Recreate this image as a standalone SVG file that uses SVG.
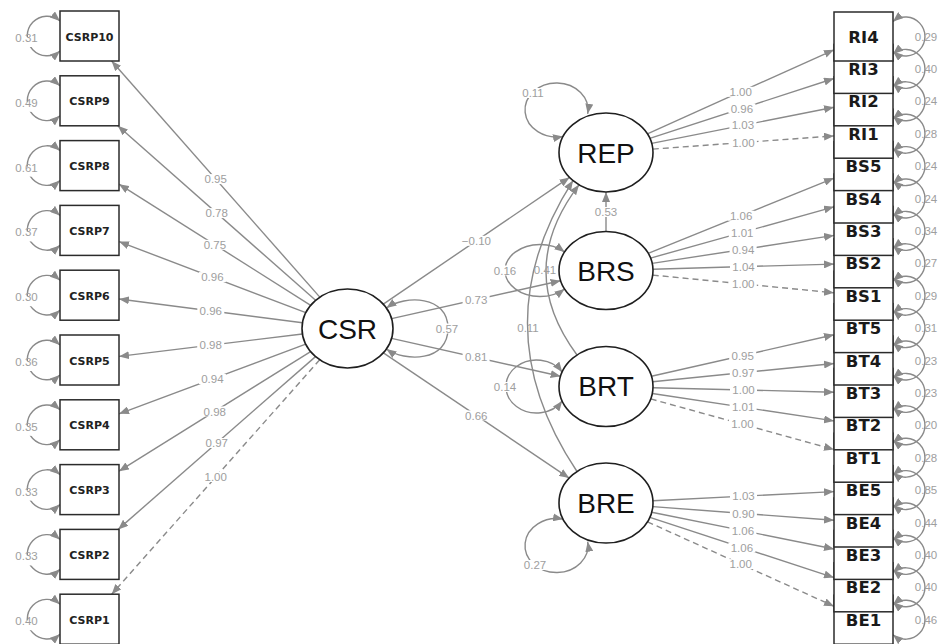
<svg xmlns="http://www.w3.org/2000/svg" width="940" height="644" viewBox="0 0 940 644">
  <style>
    .e { fill: none; stroke: #8a8a8a; stroke-width: 1.4; }
    .d { stroke-dasharray: 6 4; }
    .lb { fill: #ffffff; }
    .lt { font-family: "Liberation Sans", Arial, sans-serif; font-size: 11.5px; fill: #9e9e9e; text-anchor: middle; }
    .box { fill: #ffffff; stroke: #2b2b2b; stroke-width: 1.5; }
    .lat { fill: #ffffff; stroke: #1f1f1f; stroke-width: 1.6; }
    .tl { font-family: "DejaVu Sans", sans-serif; font-weight: bold; font-size: 11px; fill: #222222; text-anchor: middle; }
    .tr { font-family: "DejaVu Sans", sans-serif; font-weight: bold; font-size: 16.5px; fill: #1a1a1a; text-anchor: middle; }
    .tv { font-family: "Liberation Sans", Arial, sans-serif; font-size: 28px; fill: #111111; text-anchor: middle; }
  </style>
  <defs>
    <marker id="ah" viewBox="0 0 10 8" refX="10" refY="4" markerWidth="10" markerHeight="8" markerUnits="userSpaceOnUse" orient="auto">
      <path d="M0,0 L10,4 L0,8 z" fill="#8a8a8a"/>
    </marker>
    <marker id="as" viewBox="0 0 10 8" refX="10" refY="4" markerWidth="10" markerHeight="8" markerUnits="userSpaceOnUse" orient="auto-start-reverse">
      <path d="M0,0 L10,4 L0,8 z" fill="#8a8a8a"/>
    </marker>
  </defs>
  <rect width="940" height="644" fill="#ffffff"/>

  <g id="connectors">
    <!-- CSR loadings -->
    <g marker-end="url(#ah)">
      <path class="e" d="M319.8,297.1 L111.6,61.0"/>
      <path class="e" d="M315.6,300.3 L117.8,125.8"/>
      <path class="e" d="M310.7,305.3 L119.0,184.2"/>
      <path class="e" d="M305.8,312.7 L119.0,241.6"/>
      <path class="e" d="M302.5,322.7 L119.0,299.0"/>
      <path class="e" d="M302.4,334.0 L119.0,356.4"/>
      <path class="e" d="M305.7,344.1 L119.0,413.8"/>
      <path class="e" d="M310.6,351.6 L119.0,471.2"/>
      <path class="e" d="M315.5,356.6 L118.1,529.4"/>
      <path class="e d" d="M319.7,359.8 L111.7,594.2"/>
      <!-- REP loadings -->
      <path class="e" d="M647.4,133.8 L834,49.8"/>
      <path class="e" d="M649.8,138.3 L834,78.5"/>
      <path class="e" d="M651.7,143.4 L834,107.2"/>
      <path class="e d" d="M652.8,149.1 L834,135.9"/>
      <!-- BRS loadings -->
      <path class="e" d="M648.2,253.4 L834,178.1"/>
      <path class="e" d="M650.5,258.1 L834,206.8"/>
      <path class="e" d="M652.2,263.4 L834,235.4"/>
      <path class="e" d="M653.0,269.2 L834,264.1"/>
      <path class="e d" d="M652.7,275.1 L834,292.8"/>
      <!-- BRT loadings -->
      <path class="e" d="M651.4,376.2 L834,334.8"/>
      <path class="e" d="M652.7,381.8 L834,363.5"/>
      <path class="e" d="M653.0,387.7 L834,392.2"/>
      <path class="e" d="M652.3,393.5 L834,420.9"/>
      <path class="e d" d="M650.7,398.9 L834,449.5"/>
      <!-- BRE loadings -->
      <path class="e" d="M652.9,500.7 L834,491.6"/>
      <path class="e" d="M652.9,506.6 L834,520.3"/>
      <path class="e" d="M651.7,512.2 L834,549.0"/>
      <path class="e" d="M649.9,517.4 L834,577.6"/>
      <path class="e d" d="M647.5,521.8 L834,606.3"/>
      <!-- structural paths -->
      <path class="e" d="M383.3,304.1 L569.5,177.4"/>
      <path class="e" d="M391.6,318.6 L560.6,280.7"/>
      <path class="e" d="M391.6,338.4 L560.6,376.3"/>
      <path class="e" d="M383.4,352.8 L569.2,478.1"/>
      <path class="e" d="M606,231.5 L606,192"/>
      <path class="e" d="M577,355 Q514,270.1 579,184.8"/>
      <path class="e" d="M577,471.5 Q480,326 573,180.6"/>
    </g>

    <!-- variances (self loops) -->
    <g marker-start="url(#as)" marker-end="url(#ah)">
      <path class="e" d="M386.4,308 C405,295 448,295 448,328.5 C448,362 405,362 386.4,349"/>
      <path class="e" d="M587.7,113.8 A31.5,27 0 1 0 563,136.4"/>
      <path class="e" d="M564.6,252 A35,26 0 1 0 564.6,289"/>
      <path class="e" d="M562.2,372 A30.6,26.5 0 1 0 562.2,401"/>
      <path class="e" d="M563,519.1 A31.5,27 0 1 0 587.7,541.7"/>
      <!-- left indicators -->
      <path class="e" d="M60,21 A19.8,19.8 0 1 0 60,51"/>
      <path class="e" d="M60,85.8 A19.8,19.8 0 1 0 60,115.8"/>
      <path class="e" d="M60,150.6 A19.8,19.8 0 1 0 60,180.6"/>
      <path class="e" d="M60,215.4 A19.8,19.8 0 1 0 60,245.4"/>
      <path class="e" d="M60,280.2 A19.8,19.8 0 1 0 60,310.2"/>
      <path class="e" d="M60,345 A19.8,19.8 0 1 0 60,375"/>
      <path class="e" d="M60,409.8 A19.8,19.8 0 1 0 60,439.8"/>
      <path class="e" d="M60,474.6 A19.8,19.8 0 1 0 60,504.6"/>
      <path class="e" d="M60,539.4 A19.8,19.8 0 1 0 60,569.4"/>
      <path class="e" d="M60,604.2 A19.8,19.8 0 1 0 60,634.2"/>
      <!-- right indicators -->
      <path class="e" d="M893,21.5 A19.5,19.5 0 1 1 893,51.5"/>
      <path class="e" d="M893,53.9 A19.5,19.5 0 1 1 893,83.9"/>
      <path class="e" d="M893,86.3 A19.5,19.5 0 1 1 893,116.3"/>
      <path class="e" d="M893,118.7 A19.5,19.5 0 1 1 893,148.7"/>
      <path class="e" d="M893,151.1 A19.5,19.5 0 1 1 893,181.1"/>
      <path class="e" d="M893,183.5 A19.5,19.5 0 1 1 893,213.5"/>
      <path class="e" d="M893,215.9 A19.5,19.5 0 1 1 893,245.9"/>
      <path class="e" d="M893,248.3 A19.5,19.5 0 1 1 893,278.3"/>
      <path class="e" d="M893,280.7 A19.5,19.5 0 1 1 893,310.7"/>
      <path class="e" d="M893,313.1 A19.5,19.5 0 1 1 893,343.1"/>
      <path class="e" d="M893,345.5 A19.5,19.5 0 1 1 893,375.5"/>
      <path class="e" d="M893,377.9 A19.5,19.5 0 1 1 893,407.9"/>
      <path class="e" d="M893,410.3 A19.5,19.5 0 1 1 893,440.3"/>
      <path class="e" d="M893,442.7 A19.5,19.5 0 1 1 893,472.7"/>
      <path class="e" d="M893,475.1 A19.5,19.5 0 1 1 893,505.1"/>
      <path class="e" d="M893,507.5 A19.5,19.5 0 1 1 893,537.5"/>
      <path class="e" d="M893,539.9 A19.5,19.5 0 1 1 893,569.9"/>
      <path class="e" d="M893,572.3 A19.5,19.5 0 1 1 893,602.3"/>
      <path class="e" d="M893,604.7 A19.5,19.5 0 1 1 893,634.7"/>
    </g>
  </g>

  <g id="edge-labels">
    <!-- backgrounds behind path labels -->
    <g class="lb">
      <rect x="202.2" y="174.1" width="27" height="10"/>
      <rect x="203.2" y="208.1" width="27" height="10"/>
      <rect x="201.4" y="239.8" width="27" height="10"/>
      <rect x="198.9" y="272.1" width="27" height="10"/>
      <rect x="197.3" y="305.9" width="27" height="10"/>
      <rect x="197.2" y="340.2" width="27" height="10"/>
      <rect x="198.9" y="374.0" width="27" height="10"/>
      <rect x="201.3" y="406.4" width="27" height="10"/>
      <rect x="203.3" y="438.0" width="27" height="10"/>
      <rect x="202.2" y="472.0" width="27" height="10"/>
      <rect x="727.2" y="86.8" width="27" height="10"/>
      <rect x="728.4" y="103.4" width="27" height="10"/>
      <rect x="729.4" y="120.3" width="27" height="10"/>
      <rect x="729.9" y="137.5" width="27" height="10"/>
      <rect x="727.6" y="210.7" width="27" height="10"/>
      <rect x="728.8" y="227.4" width="27" height="10"/>
      <rect x="729.6" y="244.4" width="27" height="10"/>
      <rect x="730.0" y="261.7" width="27" height="10"/>
      <rect x="729.8" y="278.9" width="27" height="10"/>
      <rect x="729.2" y="350.5" width="27" height="10"/>
      <rect x="729.8" y="367.6" width="27" height="10"/>
      <rect x="730.0" y="384.9" width="27" height="10"/>
      <rect x="729.6" y="402.2" width="27" height="10"/>
      <rect x="728.9" y="419.2" width="27" height="10"/>
      <rect x="730.0" y="491.1" width="27" height="10"/>
      <rect x="729.9" y="508.4" width="27" height="10"/>
      <rect x="729.4" y="525.6" width="27" height="10"/>
      <rect x="728.4" y="542.5" width="27" height="10"/>
      <rect x="727.2" y="559.1" width="27" height="10"/>
      <rect x="459.4" y="235.8" width="34" height="10"/>
      <rect x="462.6" y="294.7" width="27" height="10"/>
      <rect x="462.6" y="352.3" width="27" height="10"/>
      <rect x="462.8" y="410.4" width="27" height="10"/>
      <rect x="592.5" y="207" width="27" height="10"/>
      <rect x="433.5" y="323.5" width="27" height="10"/>
      <rect x="519.5" y="88" width="27" height="10"/>
      <rect x="491.5" y="265.5" width="27" height="10"/>
      <rect x="491.5" y="382" width="27" height="10"/>
      <rect x="521.5" y="560" width="27" height="10"/>
      <rect x="13" y="37" width="27" height="10"/>
      <rect x="13" y="101.8" width="27" height="10"/>
      <rect x="13" y="166.6" width="27" height="10"/>
      <rect x="13" y="231.4" width="27" height="10"/>
      <rect x="13" y="296.2" width="27" height="10"/>
      <rect x="13" y="361" width="27" height="10"/>
      <rect x="13" y="425.8" width="27" height="10"/>
      <rect x="13" y="490.6" width="27" height="10"/>
      <rect x="13" y="555.4" width="27" height="10"/>
      <rect x="13" y="620.2" width="27" height="10"/>
    </g>
    <g class="lt">
      <text x="215.7" y="183.2">0.95</text>
      <text x="216.7" y="217.2">0.78</text>
      <text x="214.9" y="248.9">0.75</text>
      <text x="212.4" y="281.2">0.96</text>
      <text x="210.8" y="315.0">0.96</text>
      <text x="210.7" y="349.3">0.98</text>
      <text x="212.4" y="383.1">0.94</text>
      <text x="214.8" y="415.5">0.98</text>
      <text x="216.8" y="447.1">0.97</text>
      <text x="215.7" y="481.1">1.00</text>
      <text x="740.7" y="95.9">1.00</text>
      <text x="741.9" y="112.5">0.96</text>
      <text x="742.9" y="129.4">1.03</text>
      <text x="743.4" y="146.6">1.00</text>
      <text x="741.1" y="219.8">1.06</text>
      <text x="742.3" y="236.5">1.01</text>
      <text x="743.1" y="253.5">0.94</text>
      <text x="743.5" y="270.8">1.04</text>
      <text x="743.3" y="288.0">1.00</text>
      <text x="742.7" y="359.6">0.95</text>
      <text x="743.3" y="376.7">0.97</text>
      <text x="743.5" y="394.0">1.00</text>
      <text x="743.1" y="411.3">1.01</text>
      <text x="742.4" y="428.3">1.00</text>
      <text x="743.5" y="500.2">1.03</text>
      <text x="743.4" y="517.5">0.90</text>
      <text x="742.9" y="534.7">1.06</text>
      <text x="741.9" y="551.6">1.06</text>
      <text x="740.7" y="568.2">1.00</text>
      <text x="476.4" y="244.9">−0.10</text>
      <text x="476.1" y="303.8">0.73</text>
      <text x="476.1" y="361.4">0.81</text>
      <text x="476.3" y="419.5">0.66</text>
      <text x="606" y="216.1">0.53</text>
      <text x="545" y="274.1">0.41</text>
      <text x="528" y="332.1">0.11</text>
      <text x="447" y="332.6">0.57</text>
      <text x="533" y="97.1">0.11</text>
      <text x="505" y="274.6">0.16</text>
      <text x="505" y="391.1">0.14</text>
      <text x="535" y="569.1">0.27</text>
      <text x="26.5" y="42">0.31</text>
      <text x="26.5" y="106.8">0.49</text>
      <text x="26.5" y="171.6">0.61</text>
      <text x="26.5" y="236.4">0.37</text>
      <text x="26.5" y="301.2">0.30</text>
      <text x="26.5" y="366">0.36</text>
      <text x="26.5" y="430.8">0.35</text>
      <text x="26.5" y="495.6">0.33</text>
      <text x="26.5" y="560.4">0.33</text>
      <text x="26.5" y="625.2">0.40</text>
      <text x="926" y="40.6">0.29</text>
      <text x="926" y="73.0">0.40</text>
      <text x="926" y="105.4">0.24</text>
      <text x="926" y="137.8">0.28</text>
      <text x="926" y="170.2">0.24</text>
      <text x="926" y="202.6">0.24</text>
      <text x="926" y="235.0">0.34</text>
      <text x="926" y="267.4">0.27</text>
      <text x="926" y="299.8">0.29</text>
      <text x="926" y="332.2">0.31</text>
      <text x="926" y="364.6">0.23</text>
      <text x="926" y="397.0">0.23</text>
      <text x="926" y="429.4">0.20</text>
      <text x="926" y="461.8">0.28</text>
      <text x="926" y="494.2">0.85</text>
      <text x="926" y="526.6">0.44</text>
      <text x="926" y="559.0">0.40</text>
      <text x="926" y="591.4">0.40</text>
      <text x="926" y="623.8">0.46</text>
    </g>
  </g>

  <!-- latent variables -->
  <g id="CSR"><ellipse class="lat" cx="347.5" cy="328.5" rx="45.5" ry="39.5"/><text class="tv" x="347.5" y="338.5">CSR</text></g>
  <g id="REP"><ellipse class="lat" cx="606" cy="152.5" rx="47" ry="39.5"/><text class="tv" x="606" y="162.8">REP</text></g>
  <g id="BRS"><ellipse class="lat" cx="606" cy="270.5" rx="47" ry="39"/><text class="tv" x="606" y="280.5">BRS</text></g>
  <g id="BRT"><ellipse class="lat" cx="606" cy="386.5" rx="47" ry="40"/><text class="tv" x="606" y="396.3">BRT</text></g>
  <g id="BRE"><ellipse class="lat" cx="606" cy="503" rx="47" ry="40"/><text class="tv" x="606" y="513">BRE</text></g>

  <!-- CSR indicators -->
  <g id="CSRP10"><rect class="box" x="60" y="11" width="59" height="50"/><text class="tl" x="89.5" y="40.5">CSRP10</text></g>
  <g id="CSRP9"><rect class="box" x="60" y="75.8" width="59" height="50"/><text class="tl" x="89.5" y="105.3">CSRP9</text></g>
  <g id="CSRP8"><rect class="box" x="60" y="140.6" width="59" height="50"/><text class="tl" x="89.5" y="170.1">CSRP8</text></g>
  <g id="CSRP7"><rect class="box" x="60" y="205.4" width="59" height="50"/><text class="tl" x="89.5" y="234.9">CSRP7</text></g>
  <g id="CSRP6"><rect class="box" x="60" y="270.2" width="59" height="50"/><text class="tl" x="89.5" y="299.7">CSRP6</text></g>
  <g id="CSRP5"><rect class="box" x="60" y="335" width="59" height="50"/><text class="tl" x="89.5" y="364.5">CSRP5</text></g>
  <g id="CSRP4"><rect class="box" x="60" y="399.8" width="59" height="50"/><text class="tl" x="89.5" y="429.3">CSRP4</text></g>
  <g id="CSRP3"><rect class="box" x="60" y="464.6" width="59" height="50"/><text class="tl" x="89.5" y="494.1">CSRP3</text></g>
  <g id="CSRP2"><rect class="box" x="60" y="529.4" width="59" height="50"/><text class="tl" x="89.5" y="558.9">CSRP2</text></g>
  <g id="CSRP1"><rect class="box" x="60" y="594.2" width="59" height="50"/><text class="tl" x="89.5" y="623.7">CSRP1</text></g>

  <!-- stacked indicators on the right, drawn bottom-up so each box overlaps the one below -->
  <g id="BE1"><rect class="box" x="834" y="595.2" width="59" height="49"/><text class="tr" x="863.5" y="625.7">BE1</text></g>
  <g id="BE2"><rect class="box" x="834" y="562.8" width="59" height="49"/><text class="tr" x="863.5" y="593.3">BE2</text></g>
  <g id="BE3"><rect class="box" x="834" y="530.4" width="59" height="49"/><text class="tr" x="863.5" y="560.9">BE3</text></g>
  <g id="BE4"><rect class="box" x="834" y="498" width="59" height="49"/><text class="tr" x="863.5" y="528.5">BE4</text></g>
  <g id="BE5"><rect class="box" x="834" y="465.6" width="59" height="49"/><text class="tr" x="863.5" y="496.1">BE5</text></g>
  <g id="BT1"><rect class="box" x="834" y="433.2" width="59" height="49"/><text class="tr" x="863.5" y="463.7">BT1</text></g>
  <g id="BT2"><rect class="box" x="834" y="400.8" width="59" height="49"/><text class="tr" x="863.5" y="431.3">BT2</text></g>
  <g id="BT3"><rect class="box" x="834" y="368.4" width="59" height="49"/><text class="tr" x="863.5" y="398.9">BT3</text></g>
  <g id="BT4"><rect class="box" x="834" y="336" width="59" height="49"/><text class="tr" x="863.5" y="366.5">BT4</text></g>
  <g id="BT5"><rect class="box" x="834" y="303.6" width="59" height="49"/><text class="tr" x="863.5" y="334.1">BT5</text></g>
  <g id="BS1"><rect class="box" x="834" y="271.2" width="59" height="49"/><text class="tr" x="863.5" y="301.7">BS1</text></g>
  <g id="BS2"><rect class="box" x="834" y="238.8" width="59" height="49"/><text class="tr" x="863.5" y="269.3">BS2</text></g>
  <g id="BS3"><rect class="box" x="834" y="206.4" width="59" height="49"/><text class="tr" x="863.5" y="236.9">BS3</text></g>
  <g id="BS4"><rect class="box" x="834" y="174" width="59" height="49"/><text class="tr" x="863.5" y="204.5">BS4</text></g>
  <g id="BS5"><rect class="box" x="834" y="141.6" width="59" height="49"/><text class="tr" x="863.5" y="172.1">BS5</text></g>
  <g id="RI1"><rect class="box" x="834" y="109.2" width="59" height="49"/><text class="tr" x="863.5" y="139.7">RI1</text></g>
  <g id="RI2"><rect class="box" x="834" y="76.8" width="59" height="49"/><text class="tr" x="863.5" y="107.3">RI2</text></g>
  <g id="RI3"><rect class="box" x="834" y="44.4" width="59" height="49"/><text class="tr" x="863.5" y="74.9">RI3</text></g>
  <g id="RI4"><rect class="box" x="834" y="12" width="59" height="49"/><text class="tr" x="863.5" y="42.5">RI4</text></g>
</svg>
